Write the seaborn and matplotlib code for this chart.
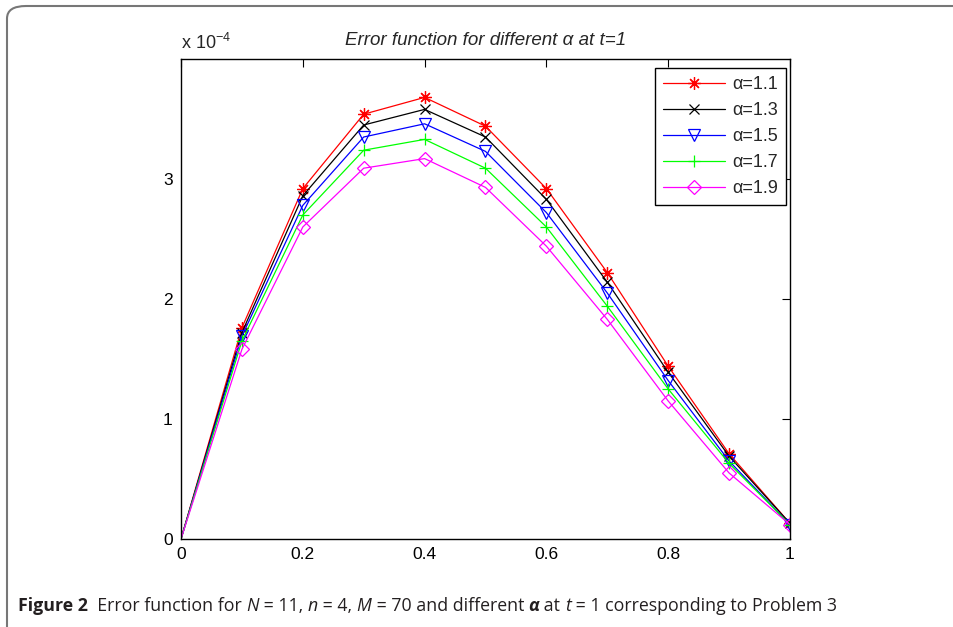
import numpy as np
import pandas as pd
import matplotlib
matplotlib.use("Agg")
import matplotlib.pyplot as plt
import seaborn as sns
from matplotlib.patches import FancyBboxPatch
from matplotlib.offsetbox import TextArea, HPacker, AnchoredOffsetbox
from matplotlib.ticker import FuncFormatter, FixedLocator

# data (values in units of 1e-4)
x_vals = [0.0, 0.1, 0.2, 0.3, 0.4, 0.5, 0.6, 0.7, 0.8, 0.9, 1.0]
err_a11 = [0.0, 1.76, 2.92, 3.54, 3.68, 3.44, 2.92, 2.22, 1.44, 0.71, 0.13]
err_a13 = [0.0, 1.72, 2.86, 3.45, 3.58, 3.35, 2.83, 2.14, 1.39, 0.69, 0.13]
err_a15 = [0.0, 1.69, 2.78, 3.35, 3.46, 3.23, 2.72, 2.05, 1.32, 0.65, 0.12]
err_a17 = [0.0, 1.65, 2.70, 3.24, 3.33, 3.09, 2.60, 1.94, 1.25, 0.63, 0.12]
err_a19 = [0.0, 1.58, 2.60, 3.09, 3.17, 2.93, 2.44, 1.83, 1.15, 0.55, 0.12]
labels = ["α=1.1", "α=1.3", "α=1.5", "α=1.7", "α=1.9"]
x_ticks = [0, 0.2, 0.4, 0.6, 0.8, 1.0]
y_ticks = [0, 1, 2, 3]

series = [err_a11, err_a13, err_a15, err_a17, err_a19]
colors = ["#ff0000", "#000000", "#0000ff", "#00ff00", "#ff00ff"]
markers = [(8, 2, 0), "x", "v", "+", "D"]
msizes = [9, 7, 9, 9, 7.5]

sns.set_style("white")
plt.rcParams["font.family"] = ["Liberation Sans", "DejaVu Sans"]
plt.rcParams["mathtext.default"] = "regular"

fig = plt.figure(figsize=(9.54, 6.27), dpi=100)
ax = fig.add_axes([181 / 954, 1 - 539 / 627, 609 / 954, 480 / 627])

for vals, lab, c, m, ms in zip(series, labels, colors, markers, msizes):
    df = pd.DataFrame({"x": x_vals, "err": np.array(vals) * 1e-4})
    # no marker at the origin, as in the reference
    sns.lineplot(data=df, x="x", y="err", ax=ax, color=c, marker=m, ms=ms,
                 mfc="none", mec=c, mew=0.9, lw=0.9, label=lab,
                 markevery=slice(1, None))

ax.set_xlim(0, 1)
ax.set_ylim(0, 4e-4)
ax.xaxis.set_major_locator(FixedLocator(x_ticks))
ax.yaxis.set_major_locator(FixedLocator([v * 1e-4 for v in y_ticks]))
ax.xaxis.set_major_formatter(FuncFormatter(lambda v, p: "%g" % round(v, 2)))
ax.yaxis.set_major_formatter(FuncFormatter(lambda v, p: "%g" % round(v * 1e4, 2)))
ax.set_xlabel("")
ax.set_ylabel("")
ax.tick_params(direction="in", length=6, width=0.8, labelsize=12.5, pad=6,
               top=True, right=True, colors="black")
for s in ax.spines.values():
    s.set_color("black")
    s.set_linewidth(1.0)

ax.set_title("Error function for different α at t=1", fontsize=13.5,
             fontstyle="italic", pad=10)
ax.text(0, 1.012, "x 10$^{-4}$", transform=ax.transAxes, fontsize=13,
        ha="left", va="bottom")

leg = ax.legend(loc="upper right", bbox_to_anchor=(0.9934, 0.9812),
                borderaxespad=0, fontsize=13, handlelength=3.4,
                labelspacing=0.5, fancybox=False, framealpha=1,
                edgecolor="black", borderpad=0.45, handletextpad=0.4)
leg.get_frame().set_linewidth(1.0)

# rounded frame around the figure panel
frame = FancyBboxPatch((7 / 954, -0.02), 1.2, 1 - 6 / 627 + 0.02,
                       boxstyle="round,pad=0,rounding_size=0.02",
                       transform=fig.transFigure, fill=False,
                       edgecolor="#777777", lw=1.5, clip_on=False)
fig.add_artist(frame)

# caption
cap_font = ["Open Sans", "DejaVu Sans"]
parts = [
    ("Figure 2", dict(weight="bold")),
    ("  Error function for ", {}),
    ("N", dict(style="italic")),
    (" = 11, ", {}),
    ("n", dict(style="italic")),
    (" = 4, ", {}),
    ("M", dict(style="italic")),
    (" = 70 and different ", {}),
    ("α", dict(style="italic", weight="bold")),
    (" at ", {}),
    ("t", dict(style="italic")),
    (" = 1 corresponding to Problem 3", {}),
]
boxes = [TextArea(t, textprops=dict(family=cap_font, size=12.8,
                                    color="#231f20", **kw)) for t, kw in parts]
hp = HPacker(children=boxes, align="baseline", pad=0, sep=0)
anch = AnchoredOffsetbox(loc="lower left", child=hp, pad=0, borderpad=0,
                         frameon=False, bbox_to_anchor=(18 / 954, 1 - 615 / 627),
                         bbox_transform=fig.transFigure)
fig.add_artist(anch)

fig.savefig("out.png", dpi=100)
